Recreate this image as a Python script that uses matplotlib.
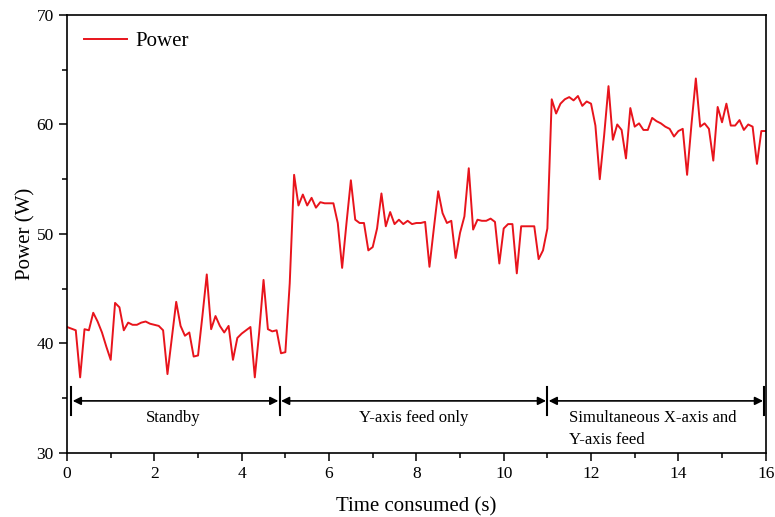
import numpy as np
import matplotlib.pyplot as plt
from matplotlib.ticker import MultipleLocator

# Power samples every 0.1 s from 0 to 16 s
time_s = np.round(np.arange(0, 16.05, 0.1), 1)
power_w = [
    41.5, 41.35, 41.2, 36.9, 41.3, 41.2, 42.8, 42.0, 41.0, 39.7,
    38.5, 43.7, 43.3, 41.2, 41.9, 41.7, 41.7, 41.9, 42.0, 41.8,
    41.7, 41.6, 41.2, 37.2, 40.5, 43.8, 41.6, 40.7, 41.0, 38.8,
    38.9, 42.5, 46.3, 41.3, 42.5, 41.6, 41.0, 41.6, 38.5, 40.5,
    40.9, 41.2, 41.5, 36.9, 41.0, 45.8, 41.3, 41.1, 41.2, 39.1,
    39.2, 45.5, 55.4, 52.6, 53.6, 52.6, 53.3, 52.4, 52.9, 52.8,
    52.8, 52.8, 51.0, 46.9, 51.0, 54.9, 51.3, 51.0, 51.0, 48.5,
    48.8, 50.5, 53.7, 50.7, 52.0, 50.9, 51.3, 50.9, 51.2, 50.9,
    51.0, 51.0, 51.1, 47.0, 50.5, 53.9, 51.9, 51.0, 51.2, 47.8,
    50.1, 51.6, 56.0, 50.4, 51.3, 51.2, 51.2, 51.4, 51.1, 47.3,
    50.5, 50.9, 50.9, 46.4, 50.7, 50.7, 50.7, 50.7, 47.7, 48.5,
    50.5, 62.3, 61.0, 61.9, 62.3, 62.5, 62.2, 62.6, 61.7, 62.1,
    61.9, 59.9, 55.0, 59.0, 63.5, 58.6, 60.0, 59.5, 56.9, 61.5,
    59.8, 60.1, 59.5, 59.5, 60.6, 60.3, 60.1, 59.8, 59.6, 58.9,
    59.4, 59.6, 55.4, 60.0, 64.2, 59.8, 60.1, 59.6, 56.7, 61.6,
    60.2, 61.9, 59.9, 59.9, 60.4, 59.5, 60.0, 59.8, 56.4, 59.4,
    59.4,
]

# phase boundaries (s) and labels
phase_edges = [0.1, 4.87, 11.0, 15.97]
phase_labels = ["Standby", "Y-axis feed only", "Simultaneous X-axis and\nY-axis feed"]

plt.rcParams['font.family'] = ['Liberation Serif', 'DejaVu Serif']

fig = plt.figure(figsize=(7.75, 5.17), dpi=100)
ax = fig.add_axes([0.0865, 0.124, 0.9015, 0.847])

ax.plot(time_s, power_w, color='#e8141c', lw=1.4, label='Power')

ax.set_xlim(0, 16)
ax.set_ylim(30, 70)
ax.xaxis.set_major_locator(MultipleLocator(2))
ax.xaxis.set_minor_locator(MultipleLocator(1))
ax.yaxis.set_major_locator(MultipleLocator(10))
ax.yaxis.set_minor_locator(MultipleLocator(5))
ax.tick_params(which='both', direction='out', labelsize=12.5, width=1.1)
ax.tick_params(which='major', length=6)
ax.tick_params(which='minor', length=3.5)
for s in ax.spines.values():
    s.set_linewidth(1.2)

ax.set_xlabel('Time consumed (s)', fontsize=15, labelpad=11)
ax.set_ylabel('Power (W)', fontsize=15, labelpad=1)

# phase markers
for xe in phase_edges:
    ax.plot([xe, xe], [33.5, 36.05], color='black', lw=1.5)
for i in range(3):
    ax.annotate('', xy=(phase_edges[i + 1] - 0.03, 34.75), xytext=(phase_edges[i] + 0.03, 34.75),
                arrowprops=dict(arrowstyle='<|-|>', color='black', lw=1.2,
                                mutation_scale=12, shrinkA=0, shrinkB=0))
ax.text(2.42, 33.2, phase_labels[0], ha='center', va='center', fontsize=12)
ax.text(7.95, 33.2, phase_labels[1], ha='center', va='center', fontsize=12)
ax.text(11.5, 32.2, phase_labels[2], ha='left', va='center', fontsize=12, linespacing=1.45)

ax.legend(loc='upper left', frameon=False, fontsize=15, handlelength=2.1,
          handletextpad=0.4, borderaxespad=0.4, bbox_to_anchor=(0.0, 1.0))

plt.savefig('out.png', dpi=100)
plt.close()
